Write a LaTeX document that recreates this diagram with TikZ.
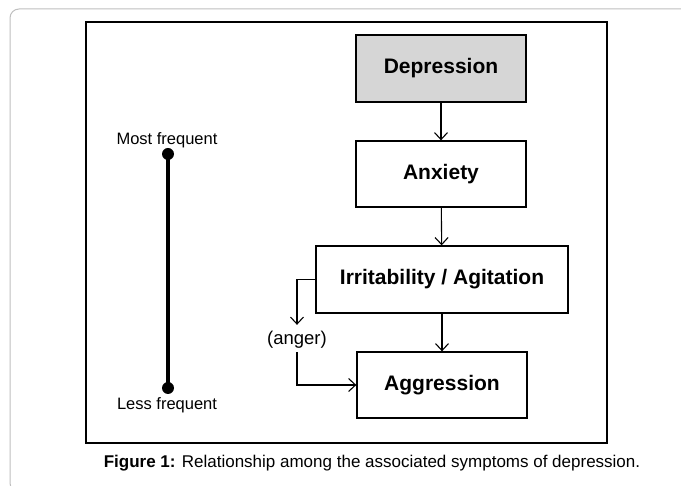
\documentclass[tikz,border=0pt]{standalone}
\usepackage{fontspec}
\setmainfont{Liberation Sans}
\usetikzlibrary{positioning,arrows.meta,shadows}

\tikzset{
  symptom/.style={draw,line width=1.3pt,minimum width=170pt,minimum height=66pt,
    font=\fontsize{21}{24}\selectfont\bfseries},
  flow/.style={line width=1.1pt,-{Straight Barb[length=7pt,width=13pt]}},
  freqlbl/.style={font=\fontsize{16.5}{19}\selectfont},
}

\begin{document}
\begin{tikzpicture}[x=1pt,y=-1pt]
  \useasboundingbox (0,0) rectangle (681,486);
  \draw[black!25,line width=1pt,rounded corners=9pt] (700,492) -- (10,492) -- (10,9) -- (700,9);
  \draw[line width=1.3pt] (86,22) rectangle (607,443);
  \node[symptom,fill=black!16,minimum height=67pt] (dep) at (441,68.5) {Depression};
  \node[symptom] (anx) at (441,174) {Anxiety};
  \node[symptom,minimum width=252pt,minimum height=67pt] (irr) at (442,279.5) {Irritability / Agitation};
  \node[symptom] (agg) at (442,385) {Aggression};
  \draw[flow] (dep) -- (anx); \draw[flow] (anx) -- (irr);
  \draw[flow] (irr) -- (agg);
  \node[font=\fontsize{18.5}{21}\selectfont] (anger) at (297,340) {(anger)};
  \draw[flow,shorten >=3pt] (irr.west) -| (anger.north);
  \draw[flow] (anger.south) |- (agg.west);
  % frequency scale
  \coordinate (most) at (168,154); \coordinate (less) at (168,388);
  \draw[line width=4pt,drop shadow={opacity=.3,shadow xshift=1pt,shadow yshift=-1pt}] (most) -- (less);
  \fill (most) circle (6pt); \fill (less) circle (6pt);
  \node[freqlbl] (mostlbl) at (167,140) {Most frequent};
  \node[freqlbl] (lesslbl) at (167,405) {Less frequent};
  \node[font=\fontsize{17}{20}\selectfont] (cap) at (372,463)
    {\textbf{Figure 1:} Relationship among the associated symptoms of depression.};
\end{tikzpicture}
\end{document}
